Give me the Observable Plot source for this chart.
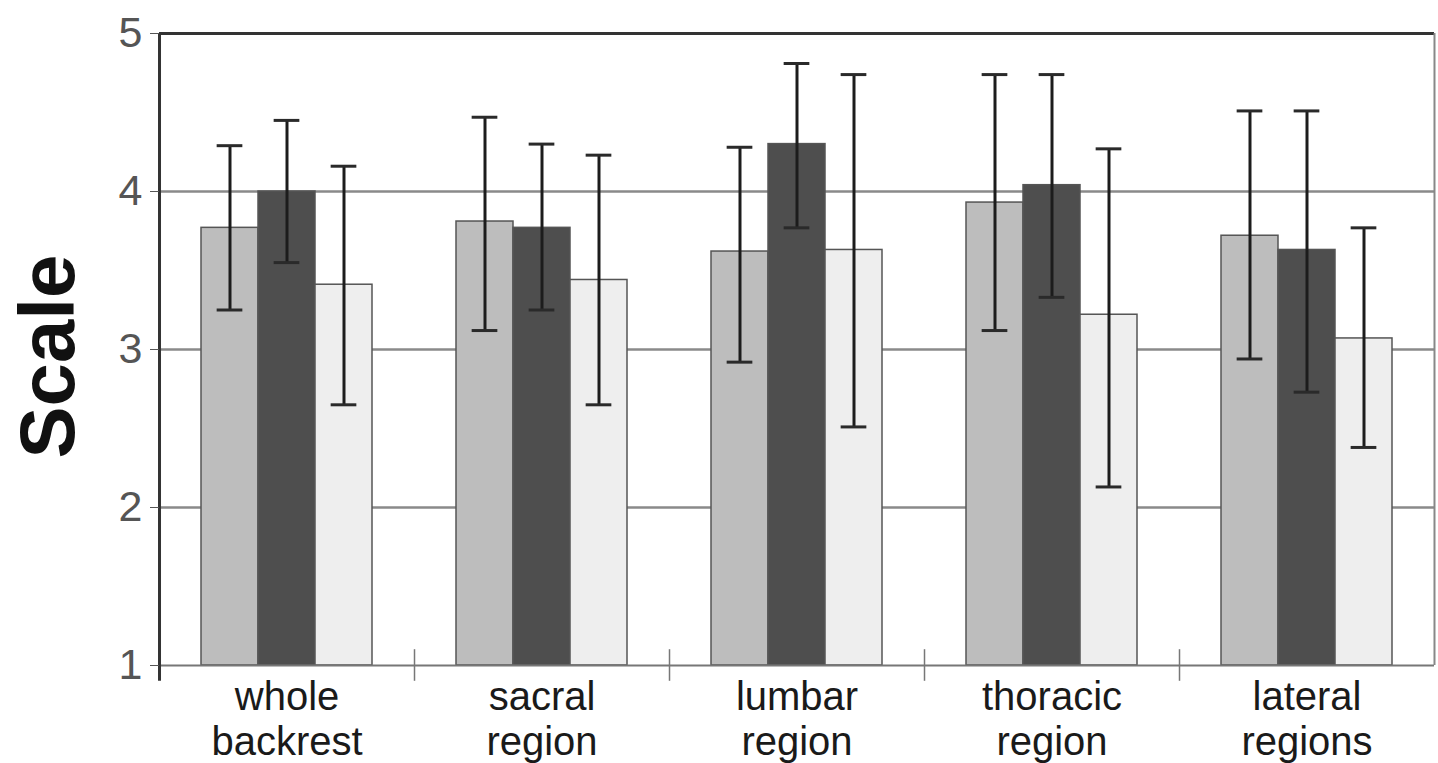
<!DOCTYPE html>
<html>
<head>
<meta charset="utf-8">
<script src="https://cdn.jsdelivr.net/npm/d3@7"></script>
<script src="https://cdn.jsdelivr.net/npm/@observablehq/plot@0.6"></script>
<style>
  html, body { margin: 0; padding: 0; background: #fff; }
  #chart svg { display: block; }
</style>
</head>
<body>
<div id="chart"></div>
<script>
// ---- data ----
const categories = ["whole backrest", "sacral region", "lumbar region", "thoracic region", "lateral regions"];
const categoryLabels = ["whole\nbackrest", "sacral\nregion", "lumbar\nregion", "thoracic\nregion", "lateral\nregions"];
const series = ["Series 1", "Series 2", "Series 3"];
const seriesColors = ["#bdbdbd", "#4e4e4e", "#eeeeee"];

const mean1 = [3.77, 3.81, 3.62, 3.93, 3.72];
const low1  = [3.25, 3.12, 2.92, 3.12, 2.94];
const high1 = [4.29, 4.47, 4.28, 4.74, 4.51];

const mean2 = [4.00, 3.77, 4.30, 4.04, 3.63];
const low2  = [3.55, 3.25, 3.77, 3.33, 2.73];
const high2 = [4.45, 4.30, 4.81, 4.74, 4.51];

const mean3 = [3.41, 3.44, 3.63, 3.22, 3.07];
const low3  = [2.65, 2.65, 2.51, 2.13, 2.38];
const high3 = [4.16, 4.23, 4.74, 4.27, 3.77];

const yTicks = [1, 2, 3, 4, 5];
const gridValues = [2, 3, 4];
const yTitle = "Scale";

// ---- table built from the arrays ----
const means = [mean1, mean2, mean3];
const lows = [low1, low2, low3];
const highs = [high1, high2, high3];
const rows = [];
categories.forEach((c, i) => {
  series.forEach((s, j) => {
    rows.push({category: c, series: s, mean: means[j][i], low: lows[j][i], high: highs[j][i]});
  });
});

// ---- layout ----
const width = 1438, height = 763;
const marginLeft = 157, marginRight = 3, marginTop = 33, marginBottom = 98;
const outerPad = 0.73;
const groupWidth = (width - marginLeft - marginRight) / categories.length;
const bandWidth = groupWidth / (series.length + 2 * outerPad);
const edgeOffset = (groupWidth - 2 * bandWidth) / 2; // from first/last band centre to facet edge
const capInset = (bandWidth - 26) / 2;
const yMin = yTicks[0], yMax = yTicks[yTicks.length - 1];

const chart = Plot.plot({
  width, height, marginLeft, marginRight, marginTop, marginBottom,
  style: {fontFamily: "'Liberation Sans', Arial, Helvetica, sans-serif", background: "#fff"},
  fx: {domain: categories, padding: 0, axis: null, label: null},
  x: {domain: series, paddingInner: 0, paddingOuter: outerPad, axis: null},
  y: {domain: [yMin, yMax], axis: null},
  color: {domain: series, range: seriesColors},
  marks: [
    // grid
    Plot.ruleY(gridValues, {stroke: "#8a8a8a", strokeWidth: 2.5}),
    // bars
    Plot.barY(rows, {fx: "category", x: "series", y1: yMin, y2: "mean", fill: "series", stroke: "#555", strokeWidth: 1.5}),
    // frame pieces
    Plot.ruleY([yMax], {stroke: "#333", strokeWidth: 3}),
    Plot.ruleY([yMin], {stroke: "#777", strokeWidth: 2}),
    Plot.ruleX(categories.slice(0, 1), {fx: d => d, x: () => series[0], y1: yMin - 0.1, y2: yMax, dx: -edgeOffset, stroke: "#333", strokeWidth: 3}),
    Plot.ruleX(categories.slice(-1), {fx: d => d, x: () => series[series.length - 1], y1: yMin, y2: yMax, dx: edgeOffset, stroke: "#888", strokeWidth: 2}),
    // group separator ticks
    Plot.ruleX(categories.slice(1), {fx: d => d, x: () => series[0], y1: yMin - 0.1, y2: yMin + 0.1, dx: -edgeOffset, stroke: "#777", strokeWidth: 1.5}),
    // error bars
    Plot.ruleX(rows, {fx: "category", x: "series", y1: "low", y2: "high", stroke: "#1c1c1c", strokeWidth: 3}),
    Plot.tickY(rows, {fx: "category", x: "series", y: "high", insetLeft: capInset, insetRight: capInset, stroke: "#2a2a2a", strokeWidth: 3}),
    Plot.tickY(rows, {fx: "category", x: "series", y: "low", insetLeft: capInset, insetRight: capInset, stroke: "#2a2a2a", strokeWidth: 3}),
    // y axis
    Plot.axisY({ticks: yTicks, tickSize: 9, tickPadding: 8, fontSize: 43, color: "#555", label: null, tickFormat: d => String(d)}),
    // y title
    Plot.text([yTitle], {fx: () => categories[0], frameAnchor: "left", textAnchor: "middle", rotate: -90, dx: -110, dy: 7, fontSize: 78, fontWeight: "bold", fill: "#111"}),
    // category labels
    Plot.text(categories, {fx: d => d, text: d => categoryLabels[categories.indexOf(d)], frameAnchor: "bottom", textAnchor: "middle", lineAnchor: "top", dy: 12, fontSize: 40, lineHeight: 1.13, fill: "#1a1a1a"})
  ]
});
document.getElementById("chart").appendChild(chart);
</script>
</body>
</html>
